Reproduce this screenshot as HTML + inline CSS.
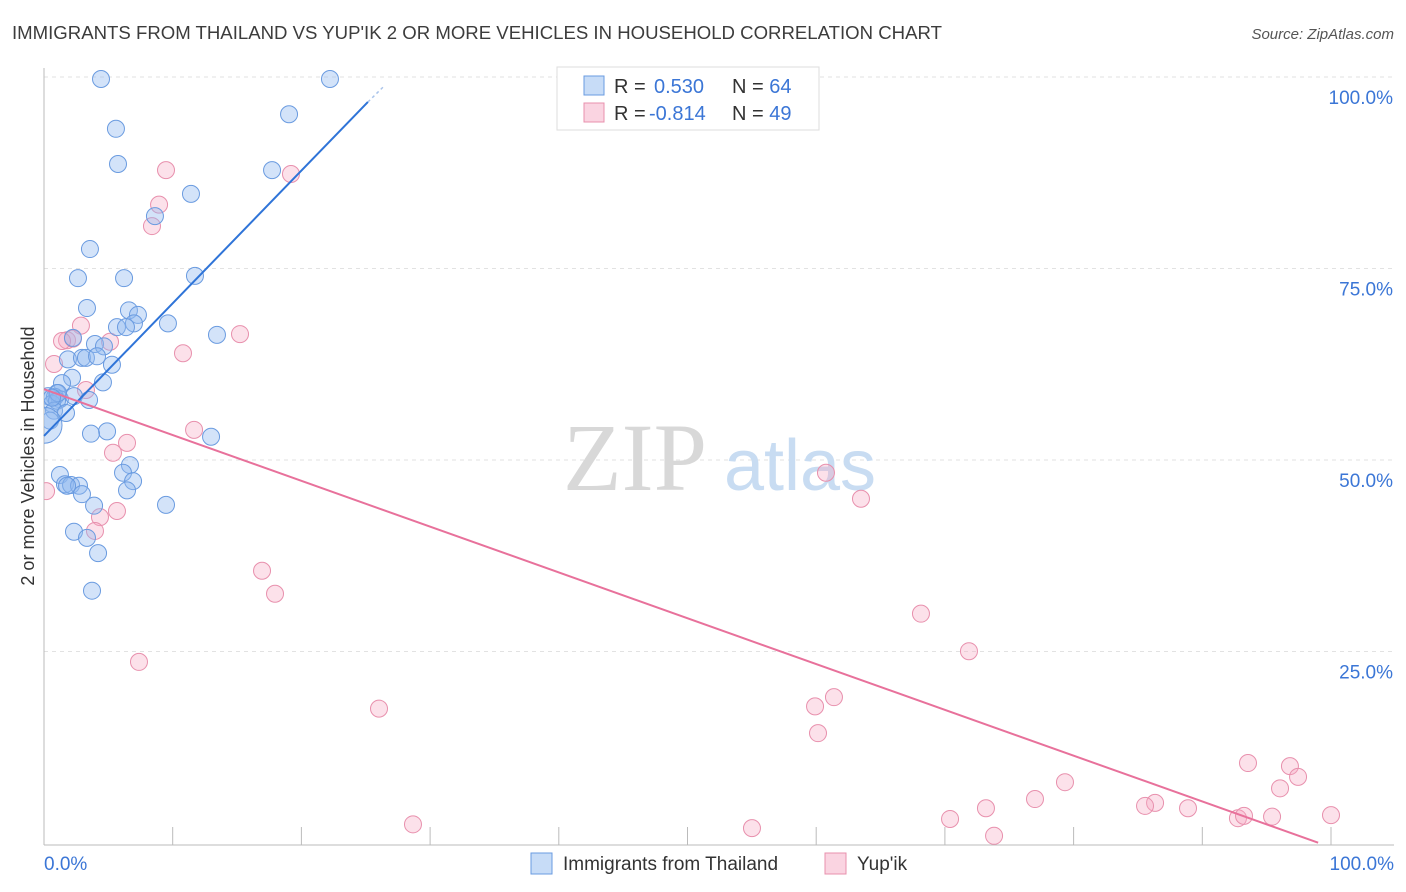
<!DOCTYPE html>
<html><head><meta charset="utf-8">
<style>
body{margin:0;background:#fff;font-family:"Liberation Sans",sans-serif;}
#wrap{position:relative;width:1406px;height:892px;overflow:hidden;}
</style></head>
<body>
<div id="wrap">
<svg id="chart" width="1406" height="892" font-family="Liberation Sans, sans-serif">
<defs><clipPath id="plotclip"><rect x="44" y="60" width="1360" height="790"/></clipPath></defs>
<text x="12" y="39" font-size="18.6" fill="#3c3c3c">IMMIGRANTS FROM THAILAND VS YUP'IK 2 OR MORE VEHICLES IN HOUSEHOLD CORRELATION CHART</text>
<text x="1394" y="39" font-size="15" fill="#555" font-style="italic" text-anchor="end">Source: ZipAtlas.com</text>
<text x="34" y="456" font-size="18" fill="#333" text-anchor="middle" transform="rotate(-90 34 456)">2 or more Vehicles in Household</text>
<g id="grid"></g>
<g id="wm">
<text x="635" y="490" font-size="96" fill="#d8d8d8" font-family="Liberation Serif, serif" text-anchor="middle">ZIP</text>
<text x="800" y="490" font-size="72" fill="#c8dcf2" text-anchor="middle">atlas</text>
</g>
<g id="pts" clip-path="url(#plotclip)"></g>
<g id="lines"></g>
<g>
<rect x="557" y="67" width="262" height="63" fill="#fff" stroke="#ddd"/>
<rect x="584" y="76" width="20" height="19" fill="rgba(144,185,240,0.5)" stroke="#6a9be0"/>
<rect x="584" y="103" width="20" height="19" fill="rgba(245,170,195,0.5)" stroke="#e890ad"/>
<text x="614" y="93" font-size="20" fill="#333">R = <tspan x="654" fill="#3b76d6">0.530</tspan><tspan x="732">N = </tspan><tspan fill="#3b76d6">64</tspan></text>
<text x="614" y="120" font-size="20" fill="#333">R = <tspan x="649" fill="#3b76d6">-0.814</tspan><tspan x="732">N = </tspan><tspan fill="#3b76d6">49</tspan></text>
</g>
<g>
<rect x="531" y="853" width="21" height="21" fill="rgba(144,185,240,0.5)" stroke="#6a9be0"/>
<text x="563" y="870" font-size="19" fill="#333">Immigrants from Thailand</text>
<rect x="825" y="853" width="21" height="21" fill="rgba(245,170,195,0.5)" stroke="#e890ad"/>
<text x="857" y="870" font-size="19" fill="#333">Yup'ik</text>
</g>
</svg>
</div>
<script>
const blueX=[4.43,22.22,5.59,19.04,5.75,17.72,11.42,8.62,3.57,2.64,6.22,11.73,3.34,6.60,7.30,6.99,5.67,6.37,9.63,13.44,2.25,3.96,4.66,1.86,2.95,3.26,4.12,5.28,2.18,1.40,4.58,1.01,0.31,0.85,1.24,2.33,3.50,0.62,1.01,0.78,1.71,12.98,4.90,3.65,6.68,6.14,1.24,1.63,2.10,2.72,6.92,6.45,2.95,3.89,9.48,2.33,3.34,4.20,3.73,0.47,1.09,1.79,0.62,0];
const blueY=[100,100,93.5,95.4,88.9,88.1,85.0,82.1,77.8,74.0,74.0,74.3,70.1,69.8,69.2,68.1,67.6,67.6,68.1,66.6,66.2,65.4,65.1,63.4,63.6,63.6,63.8,62.7,61.0,60.3,60.4,59.0,58.6,58.5,58.2,58.6,58.1,57.6,58.0,56.7,56.4,53.3,54.0,53.7,49.6,48.6,48.3,47.1,47.0,46.9,47.5,46.3,45.8,44.3,44.4,40.9,40.1,38.1,33.2,55.4,59.0,46.9,58.4,54.8];
const pinkX=[9.48,19.19,8.94,8.39,15.23,2.87,1.79,2.25,1.40,5.13,10.80,0.78,3.26,11.66,6.45,5.36,5.67,4.35,3.96,0.16,60.76,63.48,16.94,17.95,68.14,7.38,71.87,26.03,61.38,59.91,60.14,93.55,96.81,97.44,96.04,79.33,77.0,73.19,86.33,85.55,88.89,70.40,92.77,93.24,95.42,100,28.67,55.01,73.82];
const pinkY=[88.1,87.6,83.6,80.8,66.7,67.8,65.9,66.1,65.8,65.7,64.2,62.8,59.4,54.2,52.5,51.2,43.6,42.8,41.0,46.2,48.6,45.2,35.8,32.8,30.2,23.9,25.3,17.8,19.3,18.1,14.6,10.7,10.3,8.9,7.4,8.2,6.0,4.8,5.5,5.1,4.8,3.4,3.5,3.8,3.7,3.9,2.7,2.2,1.2];
const blueTrend=[[0,53.4],[25.17,97.0]];
const blueDash=[[25.17,97.0],[26.5,99.2]];
const pinkTrend=[[0,59.5],[99,0.3]];
const yTicks=[100,75,50,25];
const yTickLabels=["100.0%","75.0%","50.0%","25.0%"];
const xTickVals=[10,20,30,40,50,60,70,80,90,100];

const NS="http://www.w3.org/2000/svg";
const X=v=>44+v*12.87;
const Y=v=>845-v*7.66;
function mk(tag,attrs,parent){const e=document.createElementNS(NS,tag);for(const k in attrs)e.setAttribute(k,attrs[k]);parent.appendChild(e);return e;}
const grid=document.getElementById('grid'),pts=document.getElementById('pts'),lines=document.getElementById('lines'),svg=document.getElementById('chart');

yTicks.forEach((t,i)=>{
  const l=mk('line',{x1:44,x2:1394,y1:Y(t)-2,y2:Y(t)-2,stroke:'#e2e2e2','stroke-dasharray':'4 4'},grid);
  
  
  const tx=mk('text',{x:1393,y:Y(t)+25,'font-size':19,fill:'#3b76d6','text-anchor':'end'},svg);
  tx.textContent=yTickLabels[i];
  
  
});
const ax=mk('line',{x1:44,x2:44,y1:68,y2:845,stroke:'#bbb'},grid);


const bx=mk('line',{x1:44,x2:1394,y1:845,y2:845,stroke:'#bbb'},grid);


xTickVals.forEach(v=>{
  const t=mk('line',{x1:X(v),x2:X(v),y1:827,y2:845,stroke:'#bbb'},grid);
  
  
});
const x0=mk('text',{x:44,y:870,'font-size':19,fill:'#3b76d6'},svg);x0.textContent='0.0%';


const x1=mk('text',{x:1394,y:870,'font-size':19,fill:'#3b76d6','text-anchor':'end'},svg);x1.textContent='100.0%';



pinkX.forEach((v,i)=>{
  const c=mk('circle',{cx:X(v),cy:Y(pinkY[i]),r:8.5,fill:'rgba(245,170,195,0.35)',stroke:'#e890ad','stroke-width':1},pts);
  
  
});
blueX.forEach((v,i)=>{
  const big=i===blueX.length-1;
  const c=mk('circle',{cx:X(v),cy:Y(blueY[i]),r:big?18:8.5,fill:'rgba(144,185,240,0.4)',stroke:'#6a9be0','stroke-width':1},pts);
  
  
});
const bl=mk('line',{x1:X(blueTrend[0][0]),y1:Y(blueTrend[0][1]),x2:X(blueTrend[1][0]),y2:Y(blueTrend[1][1]),stroke:'#2f74d8','stroke-width':2},lines);


const bd=mk('line',{x1:X(blueDash[0][0]),y1:Y(blueDash[0][1]),x2:X(blueDash[1][0]),y2:Y(blueDash[1][1]),stroke:'#aac4ea','stroke-width':1.5,'stroke-dasharray':'3 3'},lines);


const pl=mk('line',{x1:X(pinkTrend[0][0]),y1:Y(pinkTrend[0][1]),x2:X(pinkTrend[1][0]),y2:Y(pinkTrend[1][1]),stroke:'#e8719b','stroke-width':2},lines);


</script>
</body></html>
